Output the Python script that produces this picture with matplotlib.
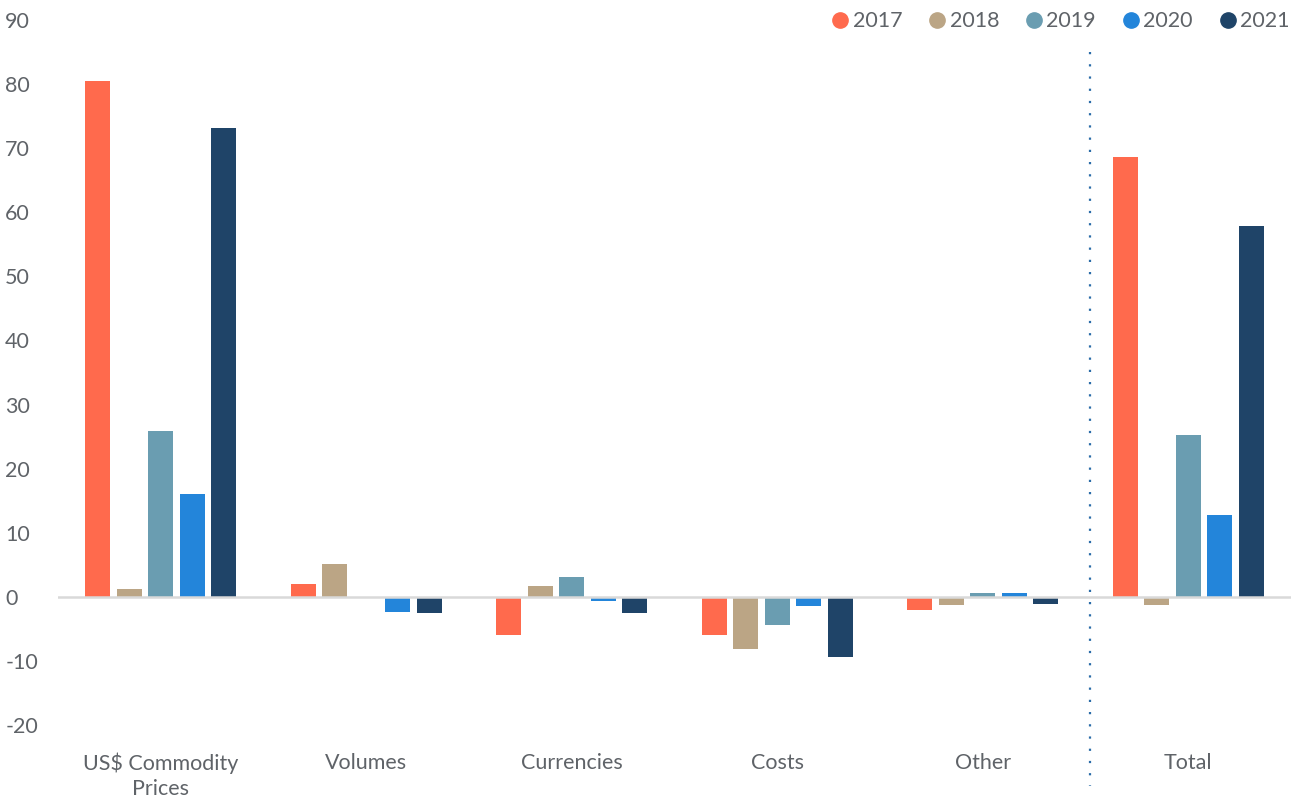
import matplotlib.pyplot as plt
import numpy as np
from matplotlib.lines import Line2D

plt.rcParams['font.family'] = ['Lato', 'DejaVu Sans']
plt.rcParams['axes.unicode_minus'] = False

categories = [r"US\$ Commodity" + "\nPrices", "Volumes", "Currencies", "Costs", "Other", "Total"]
years = ["2017", "2018", "2019", "2020", "2021"]
colors = ["#FF6A4D", "#BBA585", "#6A9DB1", "#2385DA", "#1F4468"]

v2017 = [80.5, 2.0, -5.9, -5.9, -2.0, 68.6]
v2018 = [1.2, 5.1, 1.7, -8.1, -1.2, -1.2]
v2019 = [25.9, -0.2, 3.1, -4.4, 0.6, 25.3]
v2020 = [16.1, -2.3, -0.6, -1.4, 0.6, 12.8]
v2021 = [73.2, -2.5, -2.5, -9.4, -1.1, 57.9]
series = [v2017, v2018, v2019, v2020, v2021]

text_col = "#5F6368"
fs = 15.5

fig = plt.figure(figsize=(13.01, 7.98), dpi=100)
ax = fig.add_axes([58 / 1301, 1 - 725 / 798, (1291 - 58) / 1301, (725 - 20) / 798])

x = np.arange(len(categories))
pitch, width = 0.153, 0.122
for i, (vals, c) in enumerate(zip(series, colors)):
    ax.bar(x + (i - 2) * pitch, vals, width=width, color=c, zorder=2)

ax.axhline(0, color="#D9D9D9", lw=1.8, zorder=3)

# dotted separator before the total group
ax.plot([4.52, 4.52], [85, -29.5], color="#2A6CA8", lw=1.6,
        linestyle=(0, (1, 4.5)), clip_on=False, zorder=1)

ax.set_xlim(-0.5, 5.5)
ax.set_ylim(-20, 90)
ax.set_yticks(range(-20, 91, 10))
ax.set_xticks(x)
ax.set_xticklabels(categories, linespacing=1.32)
ax.tick_params(axis="both", length=0, labelsize=fs, colors=text_col)
ax.tick_params(axis="x", pad=20)
ax.tick_params(axis="y", pad=38)
for lbl in ax.get_yticklabels():
    lbl.set_horizontalalignment("left")
for s in ax.spines.values():
    s.set_visible(False)

handles = [Line2D([], [], marker="o", linestyle="none", markersize=11,
                  markerfacecolor=c, markeredgecolor=c) for c in colors]
fig.legend(handles, years, loc="upper right", bbox_to_anchor=(1.003, 1.005),
           ncol=5, frameon=False, fontsize=fs, handlelength=0.75,
           handletextpad=0.2, columnspacing=1.25, borderaxespad=0.3,
           labelcolor=text_col)

fig.savefig("out.png", dpi=100)
